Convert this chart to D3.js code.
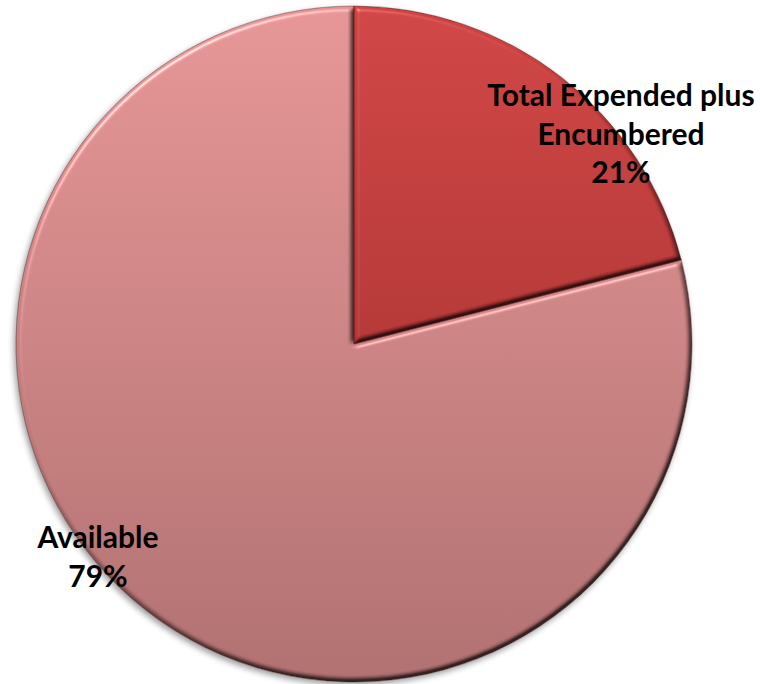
<!DOCTYPE html>
<html>
<head>
<meta charset="utf-8">
<script src="https://cdn.jsdelivr.net/npm/d3@7"></script>
<style>
  html, body { margin: 0; padding: 0; background: #ffffff; }
  svg { display: block; }
  text { font-family: "Lato", "Open Sans", sans-serif; font-weight: 700; fill: #000; }
</style>
</head>
<body>
<svg id="chart" width="760" height="684"></svg>
<script>
// Budget status shares (percent)
const categories = ["Total Expended plus Encumbered", "Available"];
const values = [21, 79];
const labelLines = [["Total Expended plus", "Encumbered", "21%"], ["Available", "79%"]];
const colorTop = ["#cc4342", "#e29292"];
const colorBottom = ["#962726", "#ad6d6d"];

const width = 760, height = 684;
const cx = 354, cy = 344, radius = 338;

const svg = d3.select("#chart");
const defs = svg.append("defs");

// Vertical shading across the whole disc (coordinates local to the pie group)
categories.forEach((c, i) => {
  const g = defs.append("linearGradient")
    .attr("id", "grad" + i)
    .attr("gradientUnits", "userSpaceOnUse")
    .attr("x1", 0).attr("y1", -radius)
    .attr("x2", 0).attr("y2", radius);
  g.append("stop").attr("offset", "0%").attr("stop-color", colorTop[i]);
  g.append("stop").attr("offset", "100%").attr("stop-color", colorBottom[i]);
});

// Soft drop shadow
const sh = defs.append("filter").attr("id", "shadow")
  .attr("color-interpolation-filters", "sRGB")
  .attr("x", "-10%").attr("y", "-10%").attr("width", "120%").attr("height", "120%");
sh.append("feGaussianBlur").attr("in", "SourceAlpha").attr("stdDeviation", 3).attr("result", "b");
sh.append("feOffset").attr("in", "b").attr("dx", -2).attr("dy", 3).attr("result", "o");
sh.append("feComponentTransfer").attr("in", "o").attr("result", "s")
  .append("feFuncA").attr("type", "linear").attr("slope", 0.4);

// Bevelled edge: diffuse shading darkens edges facing away, specular lifts the lit ones
const bv = defs.append("filter").attr("id", "bevel")
  .attr("color-interpolation-filters", "sRGB")
  .attr("x", "-5%").attr("y", "-5%").attr("width", "110%").attr("height", "110%");
bv.append("feGaussianBlur").attr("in", "SourceAlpha").attr("stdDeviation", 2.5).attr("result", "blur");
const diff = bv.append("feDiffuseLighting").attr("in", "blur")
  .attr("surfaceScale", 4).attr("diffuseConstant", 1.556)
  .attr("lighting-color", "#ffffff").attr("result", "diff");
diff.append("feDistantLight").attr("azimuth", 235).attr("elevation", 40);
bv.append("feComposite").attr("in", "SourceGraphic").attr("in2", "diff")
  .attr("operator", "arithmetic").attr("k1", 0.7).attr("k2", 0.3).attr("k3", 0).attr("k4", 0)
  .attr("result", "shaded");
const spec = bv.append("feSpecularLighting").attr("in", "blur")
  .attr("surfaceScale", 4).attr("specularConstant", 0.8)
  .attr("specularExponent", 30).attr("lighting-color", "#ffffff").attr("result", "spec");
spec.append("feDistantLight").attr("azimuth", 235).attr("elevation", 40);
bv.append("feComposite").attr("in", "spec").attr("in2", "SourceAlpha").attr("operator", "in").attr("result", "specIn");
bv.append("feComposite").attr("in", "shaded").attr("in2", "specIn")
  .attr("operator", "arithmetic").attr("k1", 0).attr("k2", 1).attr("k3", 0.45).attr("k4", 0)
  .attr("result", "lit");
bv.append("feComposite").attr("in", "lit").attr("in2", "SourceAlpha").attr("operator", "in");

const pie = d3.pie().sort(null).value(d => d)(values);
const arc = d3.arc().innerRadius(0).outerRadius(radius);

const g = svg.append("g").attr("transform", `translate(${cx},${cy})`);

// shadow layer
g.append("g").attr("filter", "url(#shadow)")
  .selectAll("path").data(pie).join("path")
  .attr("d", arc).attr("fill", "#000");

// slices
g.selectAll("path.slice").data(pie).join("path")
  .attr("class", "slice")
  .attr("d", arc)
  .attr("fill", (d, i) => `url(#grad${i})`)
  .attr("filter", "url(#bevel)");

// thin dark seams along slice edges
g.selectAll("path.seam").data(pie).join("path")
  .attr("class", "seam")
  .attr("d", arc)
  .attr("fill", "none")
  .attr("stroke", "rgba(70,15,15,0.4)")
  .attr("stroke-width", 1);

// labels
const labelPos = [[621, 106], [98, 548]];
const lineGap = 38.5;
labelLines.forEach((lines, i) => {
  const t = svg.append("text")
    .attr("text-anchor", "middle")
    .attr("font-size", 30);
  lines.forEach((s, k) => {
    t.append("tspan")
      .attr("x", labelPos[i][0])
      .attr("y", labelPos[i][1] + k * lineGap)
      .text(s);
  });
});
</script>
</body>
</html>
